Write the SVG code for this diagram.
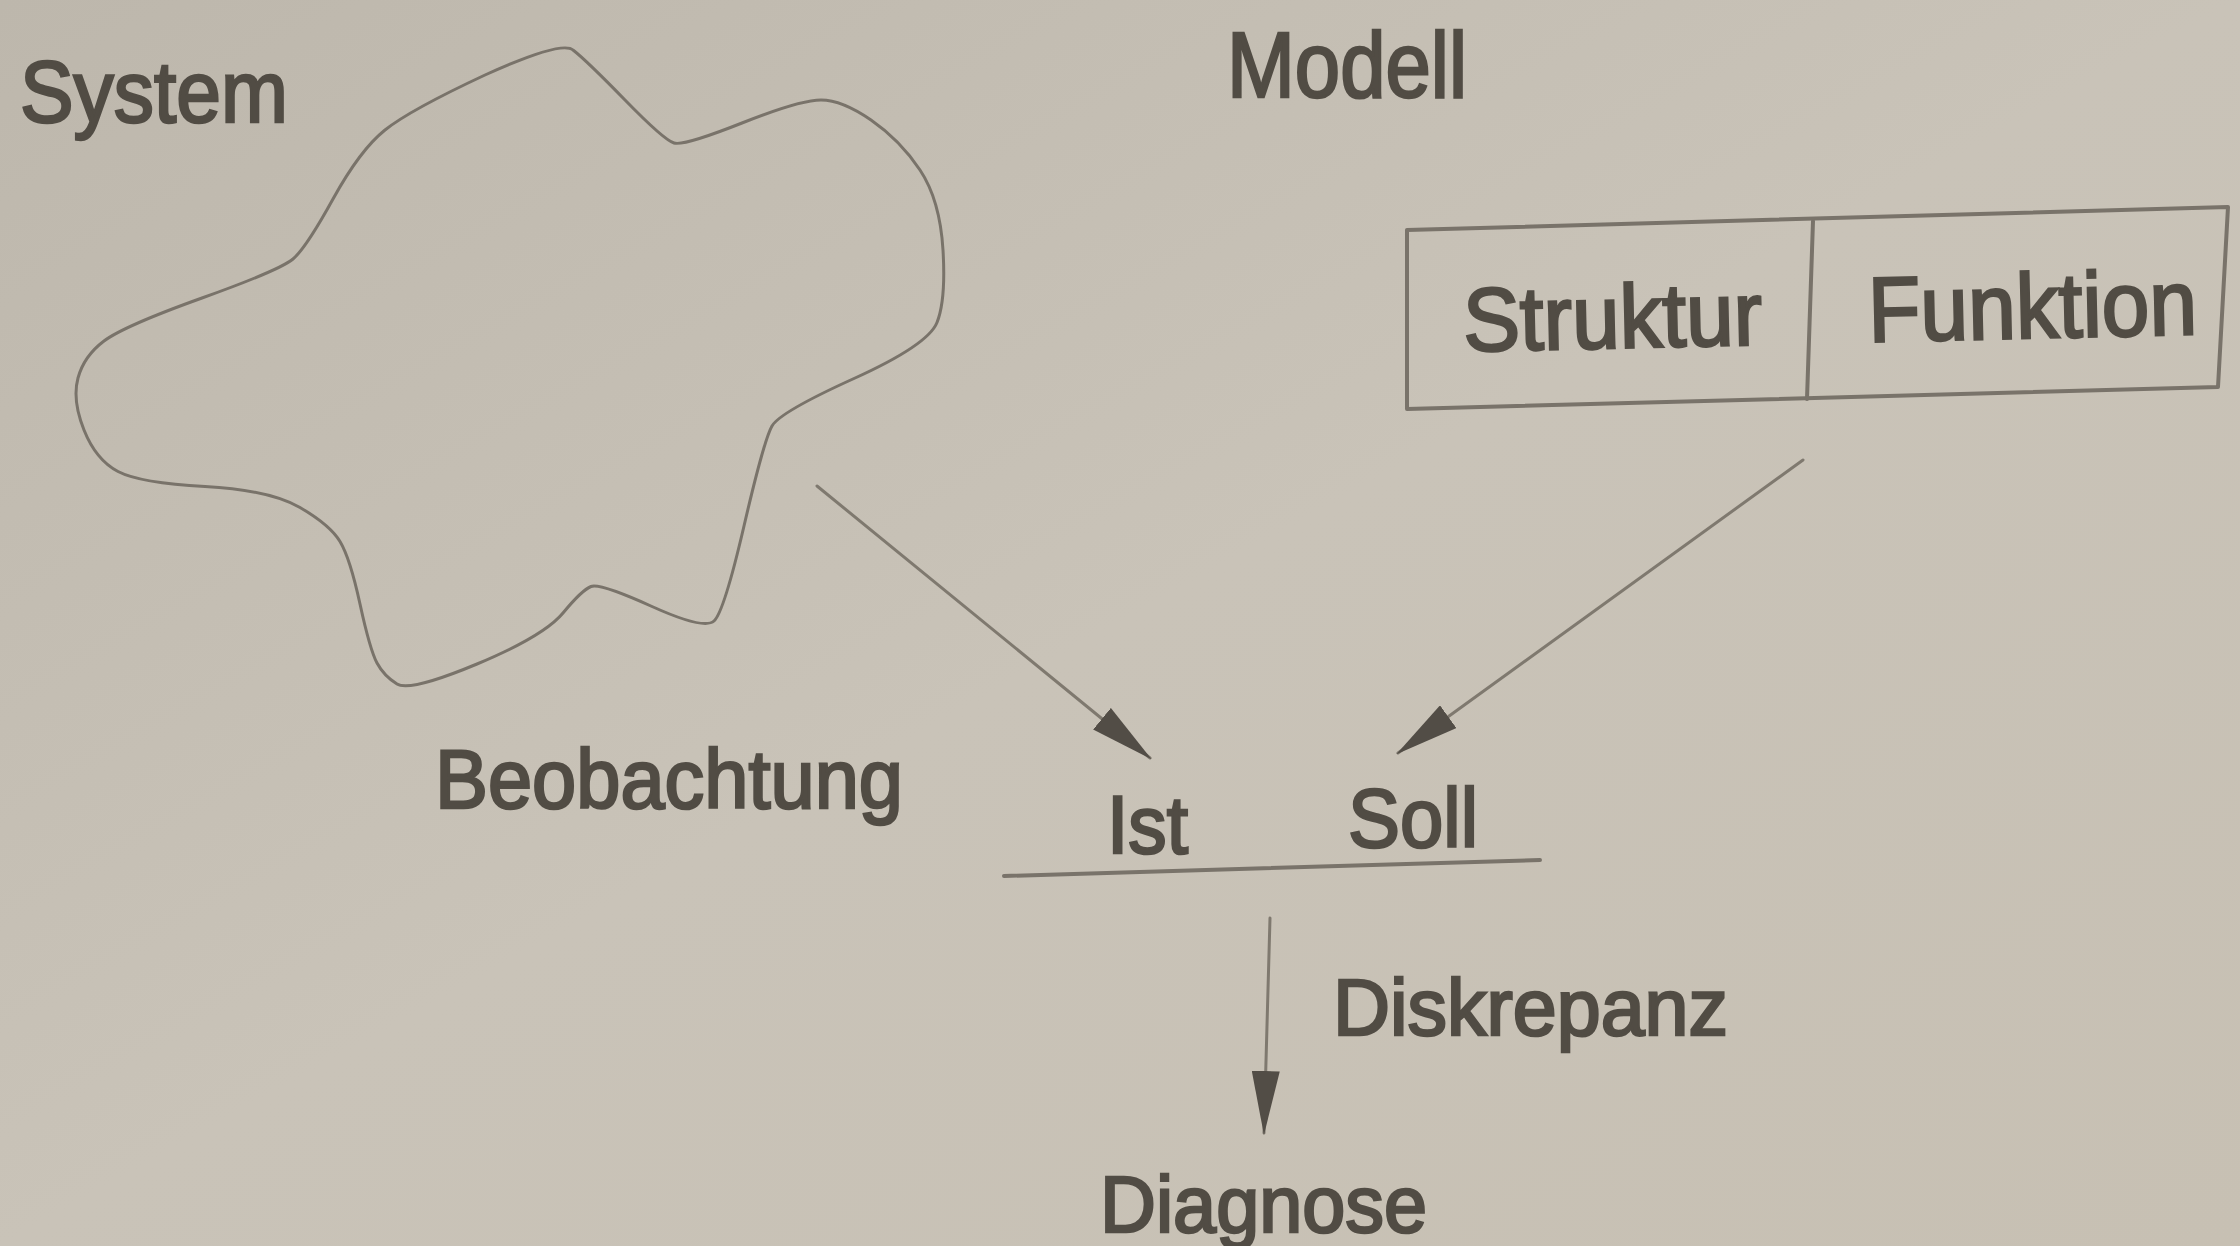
<svg xmlns="http://www.w3.org/2000/svg" width="2240" height="1246" viewBox="0 0 2240 1246">
  <defs>
    <linearGradient id="bg" x1="0" y1="0" x2="1" y2="1">
      <stop offset="0" stop-color="#bdb7ac"/>
      <stop offset="0.5" stop-color="#c9c3b8"/>
      <stop offset="1" stop-color="#c7c0b3"/>
    </linearGradient>
    <marker id="head" markerUnits="userSpaceOnUse" viewBox="0 0 64 28" markerWidth="64" markerHeight="28" refX="62" refY="14" orient="auto">
      <path d="M0,0 L64,14 L0,28 Z" fill="#524d46"/>
    </marker>
    <style>
      .lbl { font-family: "Liberation Sans", Arial, sans-serif; fill: #514c44; stroke: #514c44; stroke-width: 2.6; }
      .shape { fill: none; stroke: #79736a; stroke-linejoin: round; stroke-linecap: round; }
      .conn { fill: none; stroke: #7f796f; stroke-width: 3; stroke-linecap: round; }
    </style>
  </defs>
  <rect x="0" y="0" width="2240" height="1246" fill="url(#bg)"/>

  <g id="system">
    <text class="lbl" x="20" y="122" font-size="88" textLength="268" lengthAdjust="spacingAndGlyphs">System</text>
    <path class="shape" stroke-width="3" d="M 573,50 Q 586,60 625,100 Q 664,140 674,143 Q 684,146 742,123 Q 800,100 821,100 Q 842,100 871,120 Q 900,140 920,170 Q 940,200 943,250 Q 946,300 937,322.5 Q 928,345 854,378.5 Q 780,412 772,426 Q 764,440 744,526 Q 724,612 714,621 Q 704,630 652,606.5 Q 600,583 591,586.5 Q 582,590 563,613 Q 544,636 477,664 Q 410,692 397,684 Q 384,676 377,663 Q 370,650 360,604 Q 350,558 340,541.5 Q 330,525 300,507.5 Q 270,490 205,486.5 Q 140,483 118,471.5 Q 96,460 84,430 Q 72,400 78,378 Q 84,356 104,341 Q 124,326 202,298 Q 280,270 293,259 Q 306,248 333,199 Q 360,150 385,130 Q 410,110 485,75 Q 562,40 573,50 Z"/>
  </g>

  <g id="modell">
    <text class="lbl" x="1227" y="97" font-size="92" textLength="240" lengthAdjust="spacingAndGlyphs">Modell</text>
    <polygon class="shape" stroke-width="4" points="1407,230 2228,207 2218,387 1407,409"/>
    <line class="shape" stroke-width="4" x1="1813" y1="221" x2="1807" y2="399"/>
    <text class="lbl" x="1463" y="348" font-size="90" textLength="299" lengthAdjust="spacingAndGlyphs" transform="rotate(-1.3 1612 320)">Struktur</text>
    <text class="lbl" x="1868" y="338" font-size="92" textLength="329" lengthAdjust="spacingAndGlyphs" transform="rotate(-1.3 2032 310)">Funktion</text>
  </g>

  <g id="ist-soll">
    <text class="lbl" x="1107" y="853" font-size="82" textLength="81" lengthAdjust="spacingAndGlyphs">Ist</text>
    <text class="lbl" x="1348" y="847" font-size="84" textLength="130" lengthAdjust="spacingAndGlyphs">Soll</text>
    <line class="shape" stroke-width="4" x1="1004" y1="876" x2="1540" y2="860"/>
  </g>

  <g id="diagnose">
    <text class="lbl" x="1100" y="1232" font-size="80" textLength="327" lengthAdjust="spacingAndGlyphs">Diagnose</text>
  </g>

  <g id="connectors">
    <line class="conn" x1="817" y1="486" x2="1150" y2="758" marker-end="url(#head)"/>
    <line class="conn" x1="1803" y1="460" x2="1398" y2="753" marker-end="url(#head)"/>
    <line class="conn" stroke-width="2.5" x1="1270" y1="918" x2="1264" y2="1133" marker-end="url(#head)"/>
    <text class="lbl" x="435" y="808" font-size="84" textLength="468" lengthAdjust="spacingAndGlyphs">Beobachtung</text>
    <text class="lbl" x="1333" y="1035" font-size="80" textLength="395" lengthAdjust="spacingAndGlyphs">Diskrepanz</text>
  </g>
</svg>
